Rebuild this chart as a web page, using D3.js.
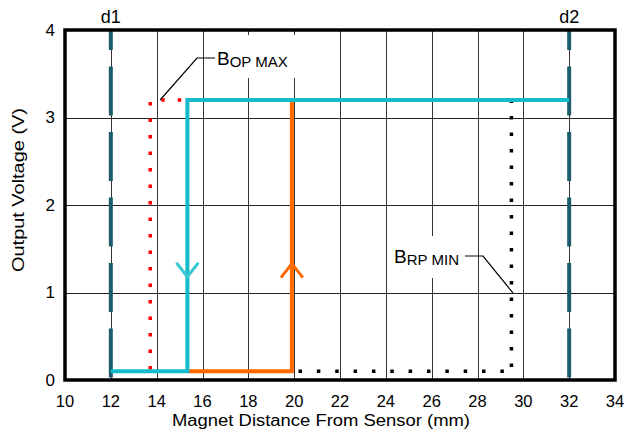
<!DOCTYPE html>
<html>
<head>
<meta charset="utf-8">
<script src="https://cdn.jsdelivr.net/npm/d3@7"></script>
<style>
  body { margin: 0; background: #fff; }
  text { font-family: "Liberation Sans", Arial, sans-serif; fill: #000; }
</style>
</head>
<body>
<div id="chart"></div>
<script>
// ticks
var xTicks = [10, 12, 14, 16, 18, 20, 22, 24, 26, 28, 30, 32, 34];
var yTicks = [0, 1, 2, 3, 4];

// output curves (mm, V)
var cyanX = [12, 15.34, 15.34, 32];
var cyanY = [0.1, 0.1, 3.2, 3.2];
var orangeX = [15.34, 19.9, 19.9];
var orangeY = [0.1, 0.1, 3.2];

// threshold dotted lines
var bopX = [13.72, 13.72, 15.3];
var bopY = [0.12, 3.2, 3.2];
var brpLowX = [20.19, 29.3];
var brpLowY = [0.1, 0.1];
var brpVertX = [29.48, 29.48];
var brpVertY = [0.15, 3.2];

// distance markers
var dLines = [{name: "d1", x: 12}, {name: "d2", x: 32}];

// direction arrows
var arrows = [{x: 15.34, y: 1.18, dir: -1, color: "#3cc9d2"}, {x: 19.9, y: 1.33, dir: 1, color: "#ff6a00"}];

// annotations
var bopLeader = [[16.55, 3.68], [15.76, 3.68], [14.15, 3.2]];
var brpLeader = [[27.45, 1.417], [28.24, 1.417], [29.55, 0.994]];

var margin = {top: 30, right: 9, bottom: 55, left: 65},
    width = 624 - margin.left - margin.right,
    height = 435 - margin.top - margin.bottom;

var svg = d3.select("#chart")
  .append("svg")
    .attr("width", 624)
    .attr("height", 435)
  .append("g")
    .attr("transform", "translate(" + margin.left + "," + margin.top + ")");

var x = d3.scaleLinear().domain([10, 34]).range([0, width]);
var y = d3.scaleLinear().domain([0, 4]).range([height, 0]);

// grid
svg.append("g")
  .selectAll("line")
  .data(xTicks.slice(1, -1))
  .enter().append("line")
    .attr("x1", function(d) { return Math.round(x(d)) + 0.5; })
    .attr("x2", function(d) { return Math.round(x(d)) + 0.5; })
    .attr("y1", 0).attr("y2", height)
    .attr("stroke", "#333").attr("stroke-width", 1);
svg.append("g")
  .selectAll("line")
  .data(yTicks.slice(1, -1))
  .enter().append("line")
    .attr("y1", function(d) { return Math.round(y(d)) + 0.5; })
    .attr("y2", function(d) { return Math.round(y(d)) + 0.5; })
    .attr("x1", 0).attr("x2", width)
    .attr("stroke", "#222").attr("stroke-width", 1);

// white boxes behind the labels
svg.append("rect").attr("x", 146).attr("y", 5).attr("width", 88).attr("height", 43).attr("fill", "#fff");
svg.append("rect").attr("x", 325).attr("y", 206).attr("width", 76).attr("height", 42).attr("fill", "#fff");

var line = d3.line()
  .x(function(d) { return x(d[0]); })
  .y(function(d) { return y(d[1]); });
var zip = function(a, b) { return a.map(function(v, i) { return [v, b[i]]; }); };

// d1 / d2 dashed lines
dLines.forEach(function(d) {
  svg.append("path")
    .attr("d", line([[d.x, 4], [d.x, 0]]))
    .attr("stroke", "#1b5d6c").attr("stroke-width", 4)
    .attr("stroke-dasharray", "49,16.5").attr("stroke-dashoffset", 29)
    .attr("fill", "none");
  svg.append("text")
    .attr("x", x(d.x)).attr("y", -7)
    .attr("text-anchor", "middle")
    .attr("font-size", "18px")
    .text(d.name);
});

// dotted threshold lines
svg.append("path").attr("d", line(zip(bopX, bopY)))
  .attr("stroke", "#ff0000").attr("stroke-width", 3.5)
  .attr("stroke-dasharray", "3.5,13").attr("fill", "none");
svg.append("path").attr("d", line(zip(brpLowX, brpLowY)))
  .attr("stroke", "#000").attr("stroke-width", 3.5)
  .attr("stroke-dasharray", "3.5,14.85").attr("fill", "none");
svg.append("path").attr("d", line(zip(brpVertX, brpVertY)))
  .attr("stroke", "#000").attr("stroke-width", 3.5)
  .attr("stroke-dasharray", "3.5,13").attr("fill", "none");

// curves
svg.append("path").attr("d", line(zip(orangeX, orangeY)))
  .attr("stroke", "#ff6a00").attr("stroke-width", 4).attr("fill", "none");
svg.append("path").attr("d", line(zip(cyanX, cyanY)))
  .attr("stroke", "#14bccb").attr("stroke-width", 4).attr("fill", "none");

// arrows (dir -1 = pointing down, 1 = pointing up)
arrows.forEach(function(a) {
  var tx = x(a.x), ty = y(a.y);
  svg.append("path")
    .attr("d", "M" + (tx - 11) + "," + (ty + a.dir * 14) + "L" + tx + "," + ty + "L" + (tx + 11) + "," + (ty + a.dir * 14))
    .attr("stroke", a.color).attr("stroke-width", 3).attr("fill", "none");
});

// annotations
svg.append("path").attr("d", line(bopLeader)).attr("stroke", "#000").attr("stroke-width", 1.2).attr("fill", "none");
svg.append("path").attr("d", line(brpLeader)).attr("stroke", "#000").attr("stroke-width", 1.2).attr("fill", "none");

var bop = svg.append("text").attr("x", x(16.63)).attr("y", y(3.6)).attr("font-size", "19px");
bop.append("tspan").text("B");
bop.append("tspan").attr("font-size", "15px").attr("dy", 2).text("OP MAX");
var brp = svg.append("text").attr("x", x(24.36)).attr("y", y(1.337)).attr("font-size", "19px");
brp.append("tspan").text("B");
brp.append("tspan").attr("font-size", "15px").attr("dy", 2).text("RP MIN");

// frame
svg.append("rect")
  .attr("x", 0).attr("y", 0).attr("width", width).attr("height", height)
  .attr("fill", "none").attr("stroke", "#000").attr("stroke-width", 3.5);

// tick labels
svg.append("g").selectAll("text")
  .data(xTicks).enter().append("text")
    .attr("x", function(d) { return x(d); })
    .attr("y", height + 27)
    .attr("text-anchor", "middle")
    .attr("font-size", "16.5px")
    .text(function(d) { return d; });
svg.append("g").selectAll("text")
  .data(yTicks).enter().append("text")
    .attr("x", -10)
    .attr("y", function(d) { return y(d); })
    .attr("dy", "0.35em")
    .attr("text-anchor", "end")
    .attr("font-size", "17px")
    .text(function(d) { return d; });

// axis titles
svg.append("text")
  .attr("x", 256).attr("y", height + 45.5)
  .attr("text-anchor", "middle")
  .attr("font-size", "16px")
  .attr("textLength", 298).attr("lengthAdjust", "spacingAndGlyphs")
  .text("Magnet Distance From Sensor (mm)");
svg.append("text")
  .attr("transform", "translate(-41," + 160 + ") rotate(-90)")
  .attr("text-anchor", "middle")
  .attr("font-size", "17px")
  .attr("textLength", 164).attr("lengthAdjust", "spacingAndGlyphs")
  .text("Output Voltage (V)");
</script>
</body>
</html>
